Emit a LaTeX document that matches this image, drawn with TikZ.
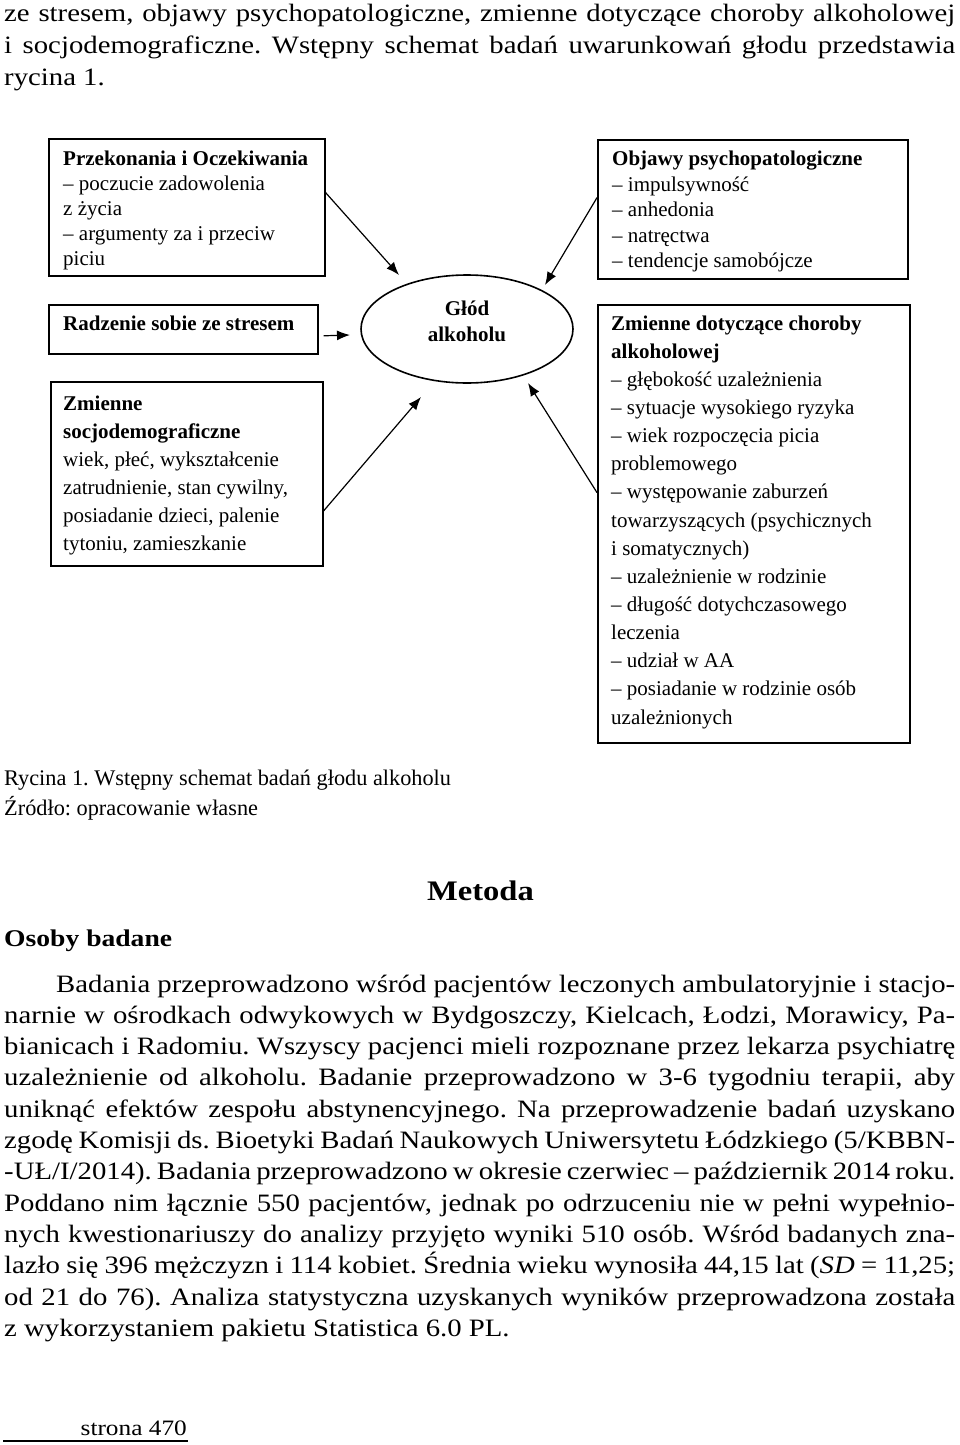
\documentclass[tikz,border=0pt]{standalone}
\usepackage{fontspec}
\setmainfont{Liberation Serif}
\newfontfamily\bodyfont[FakeStretch=1.15]{Liberation Serif}
\usetikzlibrary{shapes.geometric,arrows.meta,calc}
\frenchspacing
\begin{document}
\begin{tikzpicture}[x=1pt,y=-1pt,
  box/.style={draw, line width=1.6pt, inner sep=0pt, anchor=north west},
  boxtext/.style={anchor=west, align=left, inner sep=0pt, font=\fontsize{21}{25}\selectfont},
  arr/.style={-{Latex[length=13pt,width=10pt]}, line width=1.2pt},
  bodyline/.style={anchor=base west, inner sep=0pt, font=\bodyfont\fontsize{25}{31}\selectfont},
  capline/.style={anchor=base west, inner sep=0pt, font=\fontsize{22.3}{26}\selectfont}]
\useasboundingbox (0,0) rectangle (960,1445);

% top text
\node[bodyline] (top1) at (4,22) {\makebox[951pt][s]{ze stresem, objawy psychopatologiczne, zmienne dotyczące choroby alkoholowej}};
\node[bodyline] (top2) at (4,53.5) {\makebox[951pt][s]{i socjodemograficzne. Wstępny schemat badań uwarunkowań głodu przedstawia}};
\node[bodyline] (top3) at (4,85) {rycina 1.};

% boxes
\node[box, minimum width=276pt, minimum height=137pt] (b1) at (48,138) {};
\node[box, minimum width=310pt, minimum height=139pt] (b2) at (597,139) {};
\node[box, minimum width=269pt, minimum height=49pt] (b3) at (48,304) {};
\node[box, minimum width=272pt, minimum height=184pt] (b4) at (50,381) {};
\node[box, minimum width=312pt, minimum height=438pt] (b5) at (597,304) {};
\node[draw, ellipse, line width=1.6pt, minimum width=212pt, minimum height=108pt, inner sep=0pt] (el) at (467,329) {};

% box texts
\node[boxtext] (tb1) at (63,210) {\textbf{Przekonania i Oczekiwania}\\– poczucie zadowolenia\\z życia\\– argumenty za i przeciw\\piciu};
\node[boxtext, font=\fontsize{21}{25.5}\selectfont] (tb2) at (612,211.8) {\textbf{Objawy psychopatologiczne}\\– impulsywność\\– anhedonia\\– natręctwa\\– tendencje samobójcze};
\node[boxtext] (tb3) at (63,323.7) {\textbf{Radzenie sobie ze stresem}};
\node[boxtext, font=\fontsize{21}{28}\selectfont] (tb4) at (63,475.8) {\textbf{Zmienne}\\\textbf{socjodemograficzne}\\wiek, płeć, wykształcenie\\zatrudnienie, stan cywilny,\\posiadanie dzieci, palenie\\tytoniu, zamieszkanie};
\node[boxtext, font=\fontsize{21}{28.14}\selectfont] (tb5) at (611,522) {\textbf{Zmienne dotyczące choroby}\\\textbf{alkoholowej}\\– głębokość uzależnienia\\– sytuacje wysokiego ryzyka\\– wiek rozpoczęcia picia\\problemowego\\– występowanie zaburzeń\\towarzyszących (psychicznych\\i somatycznych)\\– uzależnienie w rodzinie\\– długość dotychczasowego\\leczenia\\– udział w AA\\– posiadanie w rodzinie osób\\uzależnionych};
\node[align=center, inner sep=0pt, font=\bfseries\fontsize{21}{26}\selectfont] (eltext) at (467,321.5) {Głód\\alkoholu};

% arrow ends
\coordinate (t1) at ($(el.center)+(-68,-54)$);
\coordinate (t2) at ($(el.center)+(78,-44)$);
\coordinate (s3) at ($(b3.east)+(5,6.5)$);
\coordinate (t3) at ($(el.center)+(-117,6)$);
\coordinate (t4) at ($(el.center)+(-46,68)$);
\coordinate (t5) at ($(el.center)+(61,54)$);

\draw[arr] ($(b1.north east)!0.394!(b1.south east)$) -- (t1);
\draw[arr] ($(b2.north west)!0.417!(b2.south west)$) -- (t2);
\draw[arr] (s3) -- (t3);
\draw[arr] ($(b4.north east)!0.70!(b4.south east)$) -- (t4);
\draw[arr] ($(b5.north west)!0.429!(b5.south west)$) -- (t5);

% caption
\node[capline] (cap1) at (4,785) {Rycina 1. Wstępny schemat badań głodu alkoholu};
\node[capline] (cap2) at (4,815) {Źródło: opracowanie własne};

% headings
\node[anchor=base west, inner sep=0pt, font=\bodyfont\bfseries\fontsize{28.3}{34}\selectfont] (metoda) at (427,900) {Metoda};
\node[anchor=base west, inner sep=0pt, font=\bodyfont\bfseries\fontsize{24}{30}\selectfont] (osoby) at (4,946) {Osoby badane};

% paragraph
\node[bodyline] (p1) at (56,992) {\makebox[899pt][s]{Badania przeprowadzono wśród pacjentów leczonych ambulatoryjnie i stacjo-}};
\node[bodyline] (p2) at (4,1023.3) {\makebox[951pt][s]{narnie w ośrodkach odwykowych w Bydgoszczy, Kielcach, Łodzi, Morawicy, Pa-}};
\node[bodyline] (p3) at (4,1054.6) {\makebox[951pt][s]{bianicach i Radomiu. Wszyscy pacjenci mieli rozpoznane przez lekarza psychiatrę}};
\node[bodyline] (p4) at (4,1085.9) {\makebox[951pt][s]{uzależnienie od alkoholu. Badanie przeprowadzono w 3-6 tygodniu terapii, aby}};
\node[bodyline] (p5) at (4,1117.2) {\makebox[951pt][s]{uniknąć efektów zespołu abstynencyjnego. Na przeprowadzenie badań uzyskano}};
\node[bodyline] (p6) at (4,1148.5) {\makebox[951pt][s]{zgodę Komisji ds. Bioetyki Badań Naukowych Uniwersytetu Łódzkiego (5/KBBN-}};
\node[bodyline] (p7) at (4,1179.8) {\makebox[951pt][s]{-UŁ/I/2014). Badania przeprowadzono w okresie czerwiec – październik 2014 roku.}};
\node[bodyline] (p8) at (4,1211.1) {\makebox[951pt][s]{Poddano nim łącznie 550 pacjentów, jednak po odrzuceniu nie w pełni wypełnio-}};
\node[bodyline] (p9) at (4,1242.4) {\makebox[951pt][s]{nych kwestionariuszy do analizy przyjęto wyniki 510 osób. Wśród badanych zna-}};
\node[bodyline] (p10) at (4,1273.7) {\makebox[951pt][s]{lazło się 396 mężczyzn i 114 kobiet. Średnia wieku wynosiła 44,15 lat (\textit{SD} = 11,25;}};
\node[bodyline] (p11) at (4,1305) {\makebox[951pt][s]{od 21 do 76). Analiza statystyczna uzyskanych wyników przeprowadzona została}};
\node[bodyline] (p12) at (4,1336.3) {z wykorzystaniem pakietu Statistica 6.0 PL.};

% footer
\node[anchor=base east, inner sep=0pt, font=\bodyfont\fontsize{22}{28}\selectfont] (strona) at (187,1435) {strona 470};
\coordinate (fl) at (3,1441);
\coordinate (fr) at (188,1441);
\draw[line width=1.5pt] (fl) -- (fr);
\end{tikzpicture}
\end{document}
